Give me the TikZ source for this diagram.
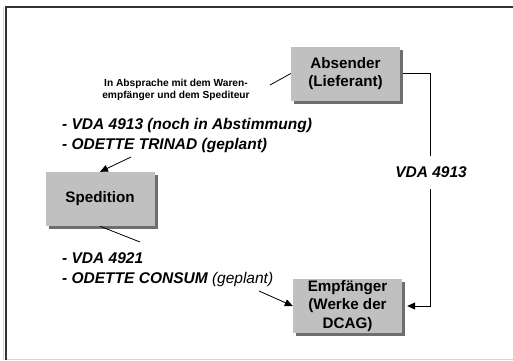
\documentclass[tikz,border=0pt]{standalone}
\usepackage{fontspec}
\setmainfont{Liberation Sans}
\usetikzlibrary{shadows,arrows.meta}
\begin{document}
\begin{tikzpicture}[x=1pt,y=-1pt,
  box/.style={fill=boxgray, minimum width=109pt, minimum height=54pt, inner sep=0pt, align=center,
    font=\fontsize{15.2}{18.5}\selectfont\bfseries,
    drop shadow={shadow xshift=3pt, shadow yshift=-3pt, fill=shadowgray, opacity=1}},
  lbl/.style={font=\fontsize{15.5}{20}\selectfont\bfseries\itshape, inner sep=0pt},
  small/.style={font=\fontsize{10.2}{12}\selectfont\bfseries, align=center, inner sep=0pt},
  conn/.style={line width=0.8pt, draw=black},
  arr/.style={conn, -{Triangle[length=8pt,width=7pt]}}]
\definecolor{boxgray}{RGB}{192,192,192}
\definecolor{shadowgray}{RGB}{110,110,110}
\definecolor{framedark}{RGB}{50,50,50}
\definecolor{framelight}{RGB}{215,215,215}
\useasboundingbox (0,0) rectangle (513,360);
% frame
\draw[framelight, line width=1pt] (6,359) -- (513,359);
\draw[framelight, line width=1pt] (3,7) -- (3,360);
\draw[framedark, line width=1.5pt] (6,360) -- (6,7) -- (513,7);
% boxes
\node[box] (abs) at (345.5,73.5) {Absender\\(Lieferant)};
\node[box] (sped) at (100,199) {Spedition};
\node[box] (emp) at (347.5,306) {Empfänger\\(Werke der\\DCAG)};
% texts
\node[small, anchor=base] (note) at (176,98.5) {In Absprache mit dem Waren-\\empfänger und dem Spediteur};
\node[lbl, anchor=base west] (t1) at (62,129.5) {- VDA 4913 (noch in Abstimmung)};
\node[lbl, anchor=base west] (t2) at (62,149.5) {- ODETTE TRINAD (geplant)};
\node[lbl, anchor=base west] (t3) at (62,263.5) {- VDA 4921};
\node[lbl, anchor=base west] (t4) at (62,283.5) {- ODETTE CONSUM \textmd{(geplant)}};
% coordinates
\coordinate (c1) at (270,85);
\coordinate (c2) at (131,157);
\coordinate (c3) at (140,242);
\coordinate (c4) at (259,291);
% connectors
\draw[conn] (c1) -- (abs.west);
\draw[arr] (c2) -- (sped.north);
\draw[conn] (sped.south) -- (c3);
\draw[arr] (c4) -- (emp.west);
\draw[arr, shorten <=3pt, shorten >=5pt] (abs.east) -- ++(30,0) |- (emp.east);
\node[lbl, fill=white, inner ysep=11pt, anchor=base] (vda) at (431,177.5) {VDA 4913};
\end{tikzpicture}
\end{document}
